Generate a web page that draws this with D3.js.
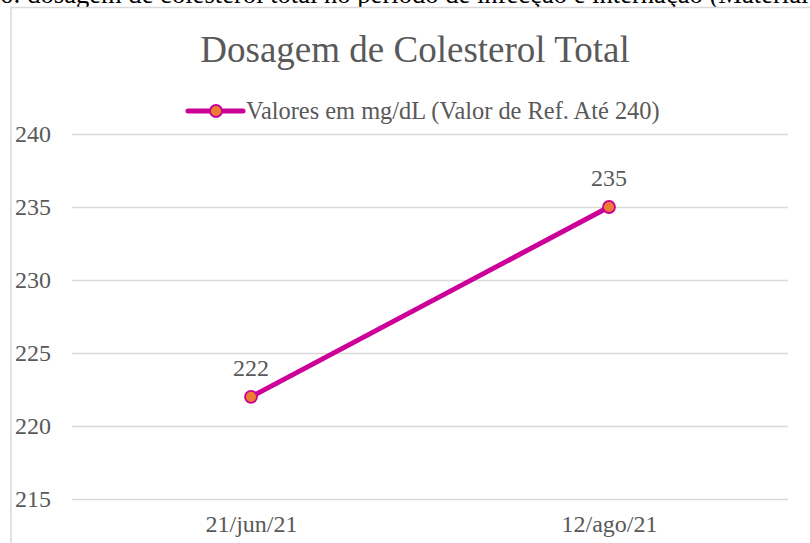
<!DOCTYPE html>
<html><head><meta charset="utf-8">
<script src="https://cdn.jsdelivr.net/npm/d3@7"></script>
<style>body{margin:0;background:#fff;overflow:hidden} svg text{font-family:"Liberation Serif","Times New Roman",Times,serif;}</style>
</head><body>
<script>
const categories = ["21/jun/21", "12/ago/21"];
const values = [222, 235];
const yTicks = [215, 220, 225, 230, 235, 240];
const seriesName = "Valores em mg/dL (Valor de Ref. Até 240)";
const chartTitle = "Dosagem de Colesterol Total";
const caption = "Gráfico 6: dosagem de colesterol total no período de infecção e internação (Material e Métodos)";

const W = 810, H = 543;
const font = "\"Liberation Serif\", \"Times New Roman\", Times, serif";
const grey = "#595959";
const lineColor = "#CC0099";
const markerFill = "#ED7D31";

const svg = d3.select("body").append("svg").attr("width", W).attr("height", H);

// caption cut off at top
svg.append("text").attr("x", -88).attr("y", 3)
  .style("font-family", font).style("font-size", "26.6px").attr("fill", "#000")
  .text(caption);

// chart frame
svg.append("rect").attr("x", 11).attr("y", 7.5).attr("width", 830).attr("height", 600)
  .attr("fill", "#fff").attr("stroke", "#D9D9D9").attr("stroke-width", 1.5);

const x = d3.scalePoint().domain(categories).range([72, 788]).padding(0.5);
const y = d3.scaleLinear().domain([215, 240]).range([499, 134]);

// gridlines
const grid = svg.append("g").attr("transform", "translate(72,0)")
  .call(d3.axisLeft(y).tickValues(yTicks).tickSize(-716).tickFormat(""));
grid.select(".domain").remove();
grid.selectAll("line").attr("stroke", "#D9D9D9").attr("stroke-width", 1.3);

// y labels
const ya = svg.append("g").attr("transform", "translate(51,0)")
  .call(d3.axisLeft(y).tickValues(yTicks).tickSize(0).tickPadding(0));
ya.select(".domain").remove();
ya.selectAll("text").style("font-family", font).style("font-size", "24px").attr("fill", grey);

// x labels
const xa = svg.append("g").attr("transform", "translate(0,499)")
  .call(d3.axisBottom(x).tickSize(0).tickPadding(16));
xa.select(".domain").remove();
xa.selectAll("text").style("font-family", font).style("font-size", "24px").attr("fill", grey);

// title
svg.append("text").attr("x", 415).attr("y", 62).attr("text-anchor", "middle")
  .style("font-family", font).style("font-size", "37px").attr("fill", grey).text(chartTitle);

// legend
const lg = svg.append("g");
lg.append("line").attr("x1", 188).attr("x2", 243).attr("y1", 111).attr("y2", 111)
  .attr("stroke", lineColor).attr("stroke-width", 5).attr("stroke-linecap", "round");
lg.append("circle").attr("cx", 216).attr("cy", 111).attr("r", 6)
  .attr("fill", markerFill).attr("stroke", lineColor).attr("stroke-width", 1.8);
lg.append("text").attr("x", 246).attr("y", 119)
  .style("font-family", font).style("font-size", "24.4px").attr("fill", grey).text(seriesName);

// line
const data = categories.map((c, i) => ({c, v: values[i]}));
svg.append("path").datum(data)
  .attr("d", d3.line().x(d => x(d.c)).y(d => y(d.v)))
  .attr("fill", "none").attr("stroke", lineColor).attr("stroke-width", 5).attr("stroke-linecap", "round");
svg.selectAll("circle.pt").data(data).enter().append("circle").attr("class", "pt")
  .attr("cx", d => x(d.c)).attr("cy", d => y(d.v)).attr("r", 6)
  .attr("fill", markerFill).attr("stroke", lineColor).attr("stroke-width", 1.8);
svg.selectAll("text.lbl").data(data).enter().append("text").attr("class", "lbl")
  .attr("x", d => x(d.c)).attr("y", d => y(d.v) - 21).attr("text-anchor", "middle")
  .style("font-family", font).style("font-size", "24px").attr("fill", grey).text(d => d.v);
</script>
</body></html>
